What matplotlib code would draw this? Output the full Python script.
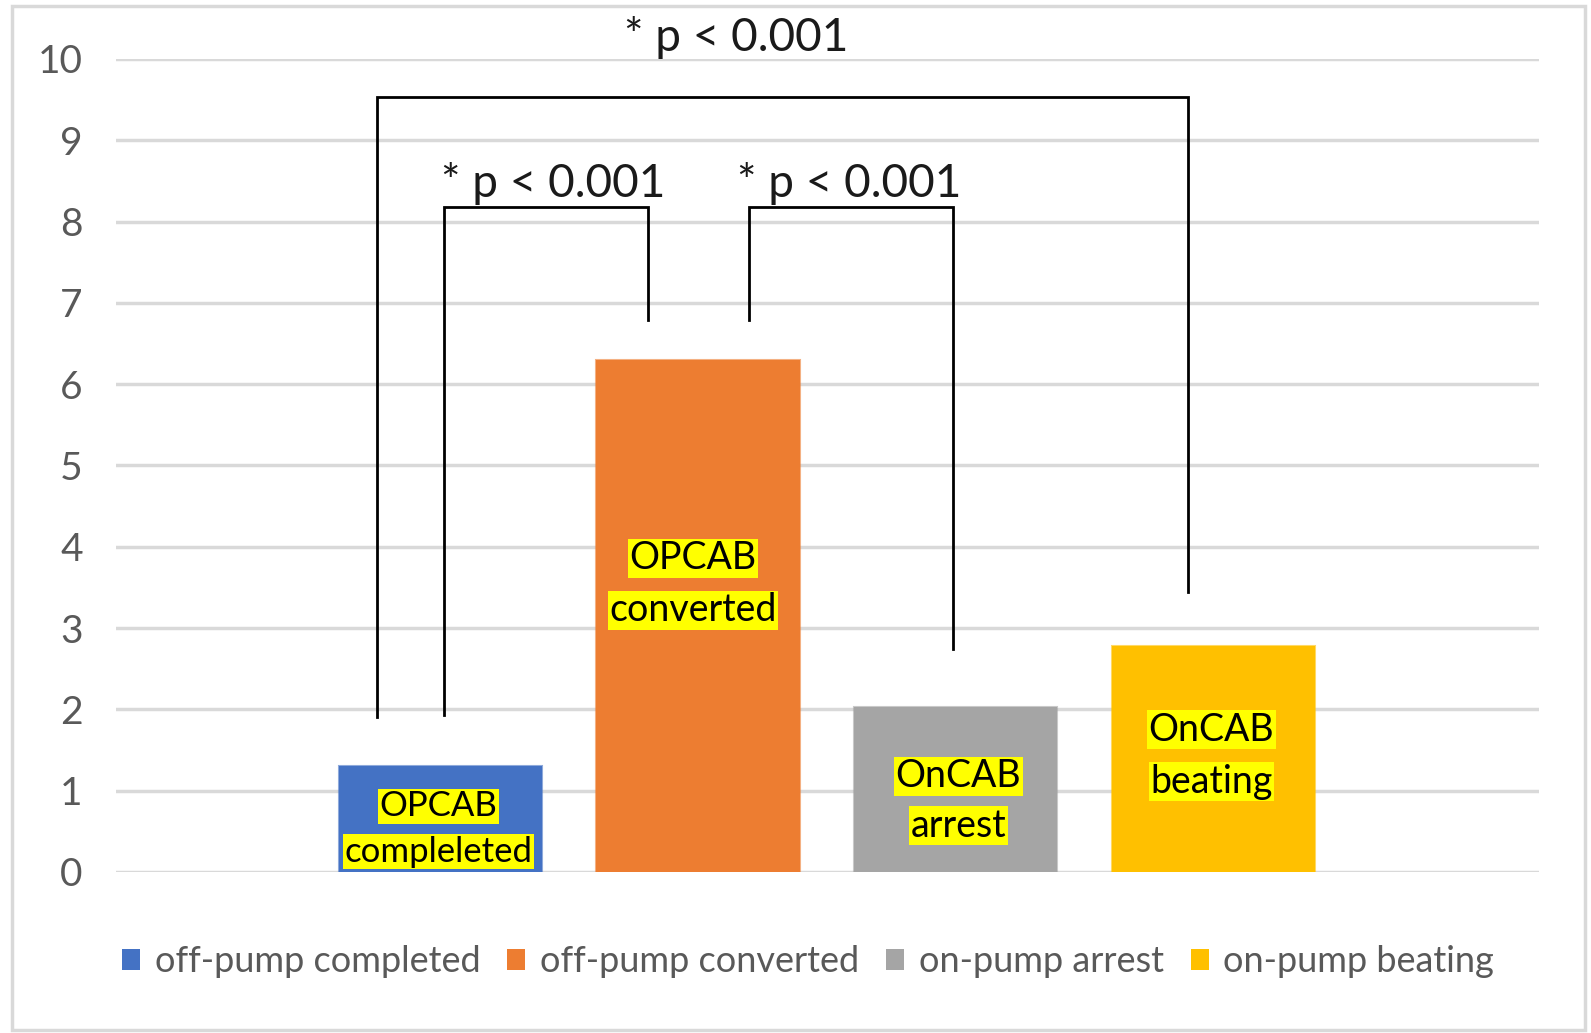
import matplotlib
matplotlib.use('Agg')
import matplotlib.pyplot as plt
import matplotlib.patches as mpatches

# ─── data ─────────────────────────────────────────────
groups = ['off-pump completed', 'off-pump converted', 'on-pump arrest', 'on-pump beating']
values = [1.30, 6.30, 2.03, 2.78]
colors = ['#4472C4', '#ED7D31', '#A5A5A5', '#FFC000']
y_ticks = [0, 1, 2, 3, 4, 5, 6, 7, 8, 9, 10]

# bar labels (two lines each, highlighted separately)
bar_labels = [('OPCAB', 'compleleted'), ('OPCAB', 'converted'),
              ('OnCAB', 'arrest'), ('OnCAB', 'beating')]
label_x = [-0.005, -0.02, 0.01, -0.01]
label_y = [(0.81, 0.25), (3.86, 3.22), (1.18, 0.57), (1.75, 1.11)]
label_size = [25, 27, 27, 27]

# significance brackets: x left, x right, top, left foot, right foot
brackets = [
    (-0.244, 2.899, 9.53, 1.91, 3.44),
    (0.017, 0.806, 8.18, 1.93, 6.79),
    (1.198, 1.988, 8.18, 6.79, 2.74),
]
sig_text = '* p < 0.001'
sig_pos = [(1.147, 10.26), (0.44, 8.47), (1.585, 8.47)]

# ─── figure ───────────────────────────────────────────
fig = plt.figure(figsize=(15.91, 10.33), dpi=100)
ax = fig.add_axes([116 / 1591, 1 - 872 / 1033, (1539 - 116) / 1591, (872 - 59) / 1033])

x = list(range(len(values)))
ax.bar(x, values, width=0.787, color=colors, edgecolor=[c + '99' for c in colors],
       linewidth=1.5, zorder=3)

ax.set_xlim(-1.256, 4.26)
ax.set_ylim(0, 10)
ax.set_yticks(y_ticks)
ax.set_xticks([])
ax.yaxis.grid(True, color='#d9d9d9', linewidth=2.5, zorder=0)
ax.set_axisbelow(True)
for s in ax.spines.values():
    s.set_visible(False)
ax.tick_params(axis='y', length=0, pad=24, labelcolor='#595959', labelsize=28)
for t in ax.get_yticklabels():
    t.set_family('Lato')

# labels on bars
for i, (l1, l2) in enumerate(bar_labels):
    for txt, yy in zip((l1, l2), label_y[i]):
        ax.text(i + label_x[i], yy, txt, ha='center', va='center', fontsize=label_size[i],
                family='Lato', color='black', zorder=5,
                bbox=dict(facecolor='#FFFF00', edgecolor='none', pad=1))

# brackets
for xl, xr, top, yl, yr in brackets:
    ax.plot([xl, xl, xr, xr], [yl, top, top, yr], color='black', linewidth=2,
            clip_on=False, zorder=4, solid_joinstyle='miter')

for px, py in sig_pos:
    ax.text(px, py, sig_text, ha='center', va='center', fontsize=33,
            family='Lato', color='#1a1a1a', clip_on=False)

# legend
handles = [mpatches.Patch(facecolor=c, edgecolor='none') for c in colors]
fig.legend(handles, groups, loc='center', bbox_to_anchor=(808 / 1591, 1 - 962 / 1033),
           ncol=4, frameon=False, handlelength=0.5, handleheight=0.5,
           handletextpad=0.4, columnspacing=0.75,
           prop={'family': 'Lato', 'size': 26}, labelcolor='#595959')

# outer frame
fig.patches.append(mpatches.Rectangle((12 / 1591, 3 / 1033), 1573 / 1591, 1024 / 1033,
                                      transform=fig.transFigure, fill=False,
                                      edgecolor='#d9d9d9', linewidth=2.5))

fig.savefig('out.png', dpi=100, facecolor='white')
